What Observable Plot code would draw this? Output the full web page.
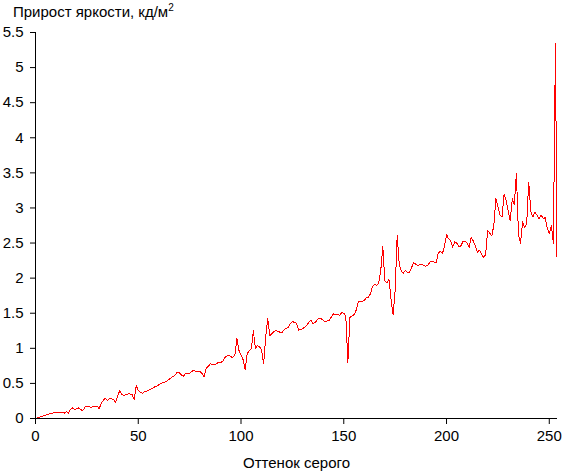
<!DOCTYPE html>
<html><head><meta charset="utf-8">
<script src="https://cdn.jsdelivr.net/npm/d3@7"></script>
<script src="https://cdn.jsdelivr.net/npm/@observablehq/plot@0.6"></script>
<style>
body{margin:0;background:#fff;font-family:"Liberation Sans",Arial,sans-serif;}
#title{height:24px;line-height:24px;font-size:15px;padding-left:13px;color:#000;white-space:nowrap;}
#title sup{font-size:10px;line-height:0;vertical-align:6px}
</style></head><body>
<div id="title">Прирост яркости, кд/м<sup>2</sup></div>
<div id="chart"></div>
<script>
const brightnessGain = [
  0, 0.01, 0.02, 0.03, 0.04, 0.05, 0.06, 0.07, 0.075, 0.08,
  0.085, 0.09, 0.09, 0.09, 0.075, 0.10, 0.07, 0.13, 0.15, 0.13,
  0.14, 0.15, 0.13, 0.11, 0.16, 0.18, 0.17, 0.16, 0.17, 0.17,
  0.18, 0.14, 0.22, 0.26, 0.29, 0.26, 0.28, 0.28, 0.27, 0.23,
  0.32, 0.40, 0.34, 0.33, 0.34, 0.35, 0.35, 0.34, 0.27, 0.47,
  0.40, 0.37, 0.36, 0.38, 0.39, 0.40, 0.42, 0.43, 0.45, 0.46,
  0.48, 0.50, 0.51, 0.52, 0.53, 0.56, 0.58, 0.60, 0.62, 0.66,
  0.65, 0.62, 0.60, 0.64, 0.645, 0.645, 0.67, 0.69, 0.67, 0.67,
  0.67, 0.64, 0.60, 0.71, 0.74, 0.78, 0.77, 0.765, 0.78, 0.80,
  0.80, 0.81, 0.86, 0.89, 0.90, 0.88, 0.87, 0.90, 1.14, 0.97,
  0.90, 0.84, 0.70, 0.92, 0.97, 0.99, 1.25, 1.00, 1.04, 1.02,
  0.98, 0.78, 1.16, 1.42, 1.18, 1.21, 1.24, 1.25, 1.24, 1.23,
  1.22, 1.27, 1.28, 1.30, 1.35, 1.38, 1.37, 1.36, 1.26, 1.27,
  1.28, 1.30, 1.33, 1.37, 1.40, 1.35, 1.37, 1.40, 1.43, 1.42,
  1.40, 1.38, 1.39, 1.40, 1.45, 1.49, 1.48, 1.48, 1.47, 1.51,
  1.50, 1.45, 0.80, 1.44, 1.46, 1.48, 1.54, 1.66, 1.66, 1.67,
  1.68, 1.72, 1.73, 1.78, 1.88, 1.91, 1.90, 1.93, 2.11, 2.45,
  1.96, 1.93, 1.98, 1.70, 1.48, 1.82, 2.61, 2.20, 2.10, 2.07,
  2.11, 2.08, 2.08, 2.15, 2.22, 2.20, 2.18, 2.19, 2.20, 2.18,
  2.17, 2.19, 2.23, 2.24, 2.23, 2.22, 2.36, 2.38, 2.35, 2.45,
  2.62, 2.56, 2.53, 2.44, 2.52, 2.50, 2.45, 2.46, 2.52, 2.53,
  2.50, 2.44, 2.58, 2.53, 2.46, 2.37, 2.40, 2.34, 2.30, 2.33,
  2.68, 2.64, 2.60, 2.75, 3.13, 3.02, 2.90, 2.87, 3.20, 3.11,
  2.96, 2.82, 3.13, 3.05, 3.49, 2.63, 2.49, 2.80, 2.72, 2.78,
  3.37, 2.95, 2.87, 2.94, 2.90, 2.85, 2.90, 2.85, 2.86, 2.72,
  2.63, 2.75, 2.50, 5.34, 1.35
];
const grayLevels = brightnessGain.map((_, i) => i);
const xTicks = [0, 50, 100, 150, 200, 250];
const yTicks = [0, 0.5, 1, 1.5, 2, 2.5, 3, 3.5, 4, 4.5, 5, 5.5];
const xLabel = "Оттенок серого";

const data = grayLevels.map((g, i) => ({gray: g, gain: brightnessGain[i]}));

const chart = Plot.plot({
  width: 562, height: 447,
  marginTop: 8, marginLeft: 35, marginRight: 5, marginBottom: 53,
  style: {fontFamily: "'Liberation Sans', Arial, sans-serif", fontSize: "15px", color: "#000", background: "#fff", overflow: "visible"},
  x: {domain: [0, 254]},
  y: {domain: [0, 5.5]},
  marks: [
    Plot.axisX({ticks: xTicks, tickSize: 6, tickPadding: 6, tickFormat: d => String(d),
      label: xLabel, labelAnchor: "center", labelOffset: 49, labelArrow: "none", fontSize: 15}),
    Plot.axisY({ticks: yTicks, tickSize: 5, tickPadding: 7, tickFormat: d => String(d), label: null, fontSize: 15}),
    Plot.ruleX([0], {stroke: "#000"}),
    Plot.ruleY([0], {stroke: "#000"}),
    Plot.line(data, {x: "gray", y: "gain", stroke: "#ff0000", strokeWidth: 1, clip: true, shapeRendering: "crispEdges"})
  ]
});
document.getElementById("chart").appendChild(chart);
</script>
</body></html>
